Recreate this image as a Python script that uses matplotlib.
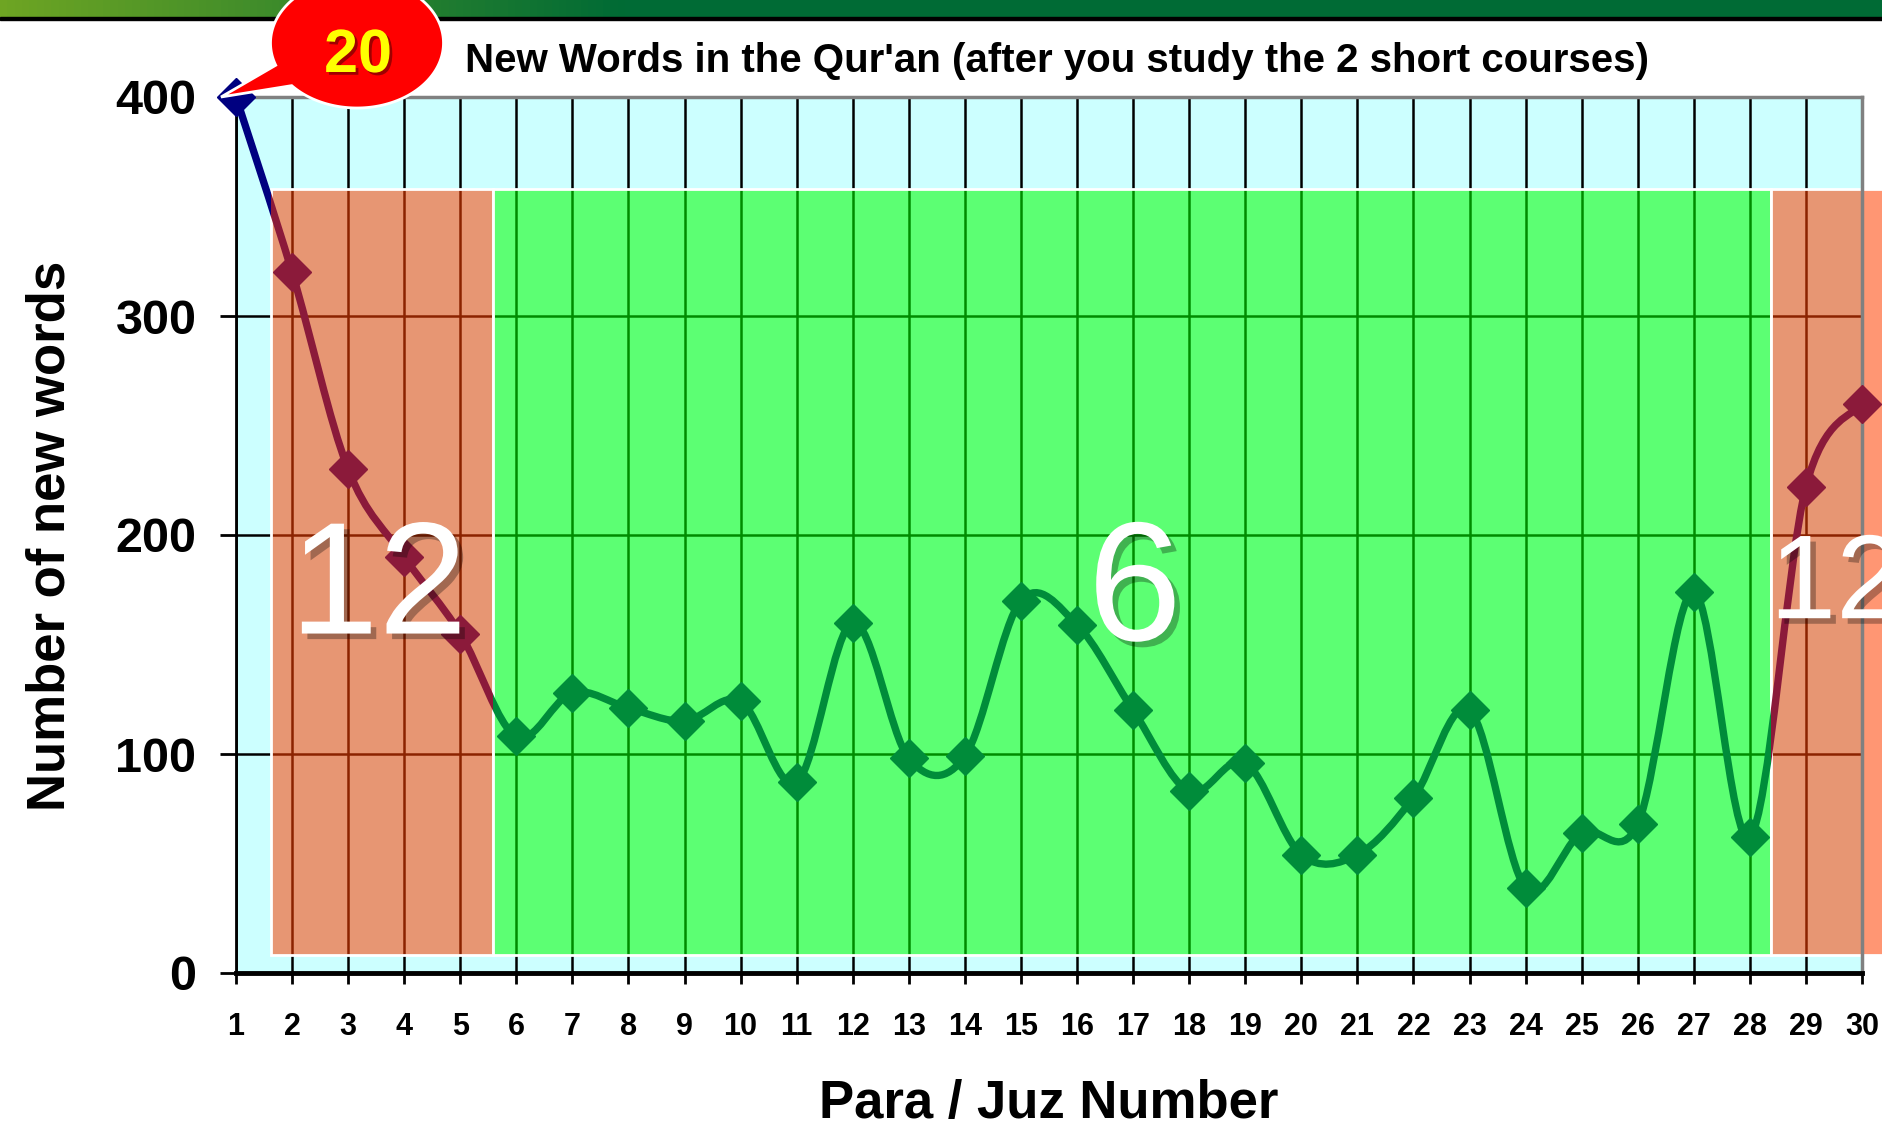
import numpy as np
import matplotlib.pyplot as plt
import matplotlib.patheffects as pe
from matplotlib.patches import Rectangle, Polygon, PathPatch
from matplotlib.path import Path
from matplotlib.colors import LinearSegmentedColormap, to_rgba
from matplotlib.transforms import Affine2D

plt.rcParams['font.family'] = 'Liberation Sans'
plt.rcParams['font.weight'] = 'bold'

# datos
juz = list(range(1, 31))
new_words = [400, 320, 230, 190, 155, 108, 128, 121, 115, 124,
             87, 160, 98, 99, 170, 159, 120, 83, 96, 54,
             54, 80, 120, 39, 64, 68, 174, 62, 222, 260]

# zonas sombreadas (límites en unidades del eje x)
zone_edges = [1.62, 5.58, 28.38, 30.6]
zone_labels = ['12', '6', '12']
zone_fill = ['#FF4000', '#00FF00', '#FF4000']
zone_line = ['#8B1A3A', '#008C3A', '#8B1A3A']
zone_bottom, zone_top = 8, 358
callout_text = '20'

W, H = 1883, 1138
fig = plt.figure(figsize=(W / 100, H / 100), dpi=100)
fig.patch.set_facecolor('white')

# pixel coords (y hacia abajo) -> figura
px = Affine2D().scale(1 / W, -1 / H).translate(0, 1) + fig.transFigure

# =========================================================================
# banda superior con degradado verde
# =========================================================================
band = fig.add_axes([0, 1 - 17 / H, 1, 17 / H])
band_cmap = LinearSegmentedColormap.from_list(
    'band', [(0, '#6EA523'), (0.33, '#006B35'), (1, '#006B35')])
band.imshow(np.linspace(0, 1, 256)[None, :], aspect='auto', cmap=band_cmap,
            extent=[0, 1, 0, 1])
band.axis('off')
fig.add_artist(Rectangle((0, 17), W, 3, transform=px, color='black', zorder=1))

# =========================================================================
# ejes principales
# =========================================================================
ax = fig.add_axes([236 / W, 1 - 973 / H, (1862 - 236) / W, (973 - 97) / H])
ax.set_facecolor('#CCFFFF')
ax.set_xlim(1, 30)
ax.set_ylim(0, 400)
ax.set_xticks(juz)
ax.set_yticks([0, 100, 200, 300, 400])
ax.grid(True, color='black', lw=1.8)
ax.set_axisbelow(True)

ax.spines['left'].set_linewidth(2)
ax.spines['bottom'].set_linewidth(3.5)
for s in ['top', 'right']:
    ax.spines[s].set_color('#808080')
    ax.spines[s].set_linewidth(2.5)

ax.tick_params(axis='x', length=8, width=2, pad=20, labelsize=22)
ax.tick_params(axis='y', length=11.5, width=2, pad=17, labelsize=35)

# rectángulos de zonas
zones = []
for i in range(3):
    x0, x1 = zone_edges[i], zone_edges[i + 1]
    r = Rectangle((x0, zone_bottom), x1 - x0, zone_top - zone_bottom,
                  facecolor=to_rgba(zone_fill[i], 0.55), edgecolor='white',
                  lw=2, clip_on=False, zorder=1)
    ax.add_patch(r)
    zones.append(r)


def smooth_path(xs, ys):
    # curva suavizada tipo Excel (Bezier con tangentes Catmull-Rom)
    p = np.column_stack([xs, ys]).astype(float)
    ext = np.vstack([p[0], p, p[-1]])
    verts, codes = [p[0]], [Path.MOVETO]
    for i in range(len(p) - 1):
        c1 = ext[i + 1] + (ext[i + 2] - ext[i]) / 6
        c2 = ext[i + 2] - (ext[i + 3] - ext[i + 1]) / 6
        verts += [c1, c2, p[i + 1]]
        codes += [Path.CURVE4] * 3
    return Path(verts, codes)


curve = smooth_path(juz, new_words)


def draw_series(color, clip):
    lp = PathPatch(curve, fill=False, ec=color, lw=5.3, capstyle='round',
                   joinstyle='round', zorder=3)
    ax.add_patch(lp)
    mk, = ax.plot(juz, new_words, 'D', ms=19, color=color, ls='none', zorder=3)
    for a in (lp, mk):
        a.set_clip_path(clip)
        if not isinstance(clip, Rectangle):
            a.set_clip_box(None)


# parte azul: todo menos las zonas
verts, codes = [], []
box = lambda x0, x1, y0, y1: [(x0, y0), (x1, y0), (x1, y1), (x0, y1), (x0, y0)]
verts += box(-5, 40, -100, 600)
codes += [Path.MOVETO] + [Path.LINETO] * 3 + [Path.CLOSEPOLY]
for i in range(3):
    verts += box(zone_edges[i], zone_edges[i + 1], zone_bottom, zone_top)[::-1]
    codes += [Path.MOVETO] + [Path.LINETO] * 3 + [Path.CLOSEPOLY]
outside = PathPatch(Path(verts, codes), transform=ax.transData)
draw_series('#000080', outside)

for i in range(3):
    draw_series(zone_line[i], zones[i])

# números grandes en las zonas
shadow = [pe.SimplePatchShadow(offset=(4, -4), shadow_rgbFace='black', alpha=0.3),
          pe.Normal()]
ax.text(3.54, 155, zone_labels[0], fontsize=115, fontweight='normal',
        color='white', ha='center', va='baseline', zorder=4, path_effects=shadow)
ax.text(17.03, 152, zone_labels[1], fontsize=122, fontweight='normal',
        color='white', ha='center', va='baseline', zorder=4, path_effects=shadow)
ax.text(29.54, 162, zone_labels[2], fontsize=86, fontweight='normal',
        color='white', ha='center', va='baseline', zorder=4, path_effects=shadow)

# =========================================================================
# textos
# =========================================================================
fig.text(1057, 72, "New Words in the Qur'an (after you study the 2 short courses)",
         transform=px, fontsize=29, ha='center', va='baseline')
fig.text(51, 536, 'Number of new words', transform=px, fontsize=38,
         rotation=90, ha='center', va='center')
fig.text(1049, 1118, 'Para / Juz Number', transform=px, fontsize=38,
         ha='center', va='baseline')

# globo "20"
cx, cy, a, b = 357, 43, 86.5, 65
t = np.radians(np.linspace(160, 499, 200))
pts = np.column_stack([cx + a * np.cos(t), cy + b * np.sin(t)])
pts = np.vstack([pts, [221, 97]])
fig.add_artist(Polygon(pts, closed=True, transform=px, facecolor='#FF0000',
                       edgecolor='white', lw=2, zorder=5))
fig.text(358, 72, callout_text, transform=px, fontsize=44, color='#FFFF00',
         ha='center', va='baseline', zorder=6,
         path_effects=[pe.SimplePatchShadow(offset=(2, -2), shadow_rgbFace='#600000',
                                            alpha=0.6), pe.Normal()])

fig.savefig('out.png', dpi=100)
